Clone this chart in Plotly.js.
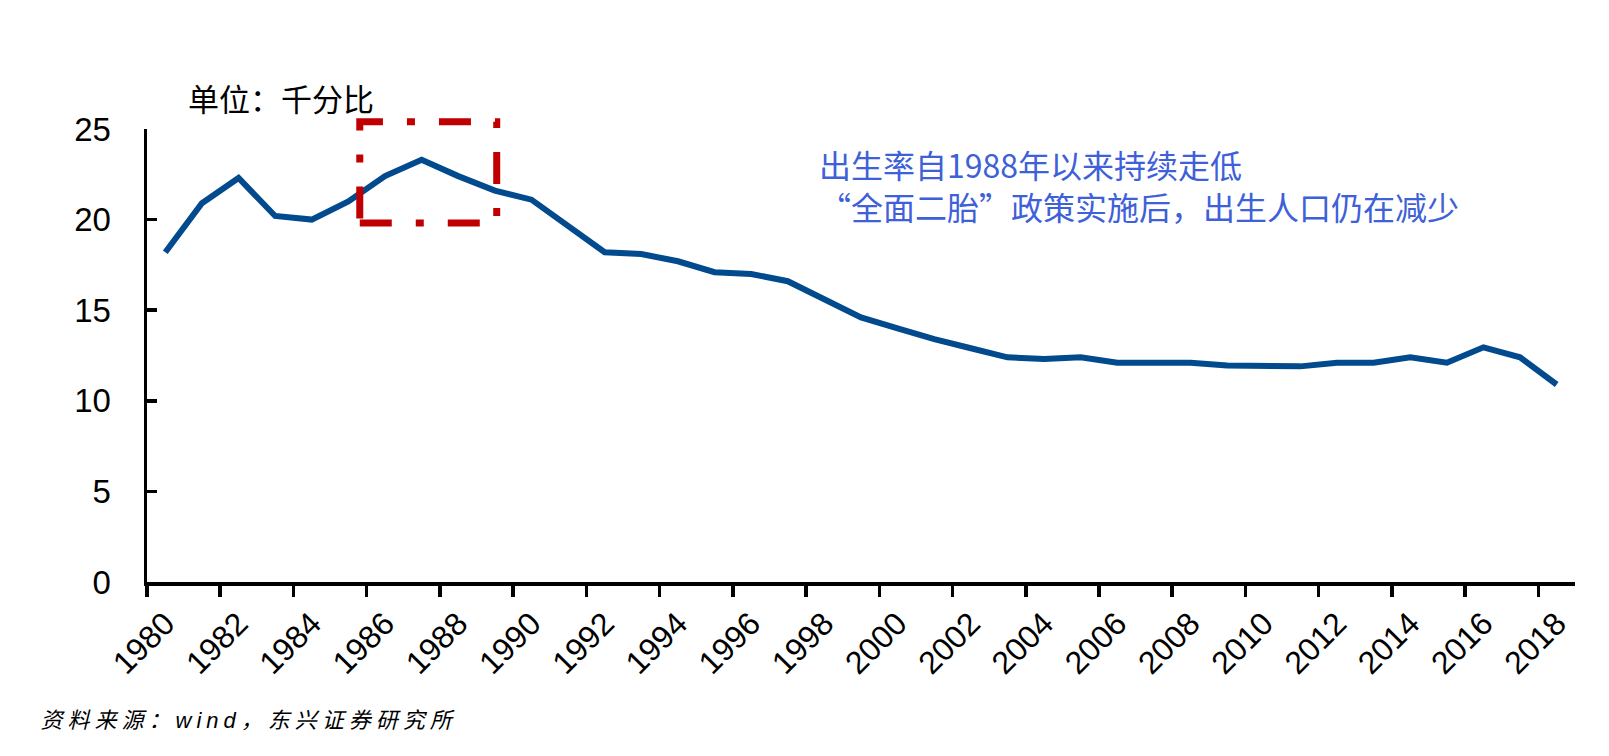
<!DOCTYPE html>
<html>
<head>
<meta charset="utf-8">
<script src="https://cdn.plot.ly/plotly-3.0.1.min.js"></script>
<style>
  html, body { margin: 0; padding: 0; background: #ffffff; }
  #chart { width: 1609px; height: 756px; }
  .annotation[data-index="2"] .annotation-text { letter-spacing: 5px; }
</style>
</head>
<body>
<div id="chart"></div>
<script>
// ---- data ----
var years = [1980, 1981, 1982, 1983, 1984, 1985, 1986, 1987, 1988, 1989,
             1990, 1991, 1992, 1993, 1994, 1995, 1996, 1997, 1998, 1999,
             2000, 2001, 2002, 2003, 2004, 2005, 2006, 2007, 2008, 2009,
             2010, 2011, 2012, 2013, 2014, 2015, 2016, 2017, 2018];
var birthRate = [18.2, 20.9, 22.3, 20.2, 20.0, 21.0, 22.4, 23.3, 22.4, 21.6,
                 21.1, 19.7, 18.2, 18.1, 17.7, 17.1, 17.0, 16.6, 15.6, 14.6,
                 14.0, 13.4, 12.9, 12.4, 12.3, 12.4, 12.1, 12.1, 12.1, 11.95,
                 11.9, 11.9, 12.1, 12.1, 12.4, 12.1, 12.95, 12.4, 10.9];
var labelYears = [1980, 1982, 1984, 1986, 1988, 1990, 1992, 1994, 1996, 1998,
                  2000, 2002, 2004, 2006, 2008, 2010, 2012, 2014, 2016, 2018];
var yTicks = [0, 5, 10, 15, 20, 25];
var unitText = "单位：千分比";
var noteLine1 = "出生率自1988年以来持续走低";
var noteLine2 = "“全面二胎”政策实施后，出生人口仍在减少";
var sourceText = "资料来源：wind，东兴证券研究所";

// ---- derived axis helpers ----
var boundaryTicks = labelYears.map(function (y) { return y - 0.5; });
var xRange = [years[0] - 0.5, years[years.length - 1] + 0.5];

var trace = {
  x: years,
  y: birthRate,
  type: 'scatter',
  mode: 'lines',
  line: { color: '#004A8D', width: 6, shape: 'linear' },
  hoverinfo: 'skip',
  xaxis: 'x',
  yaxis: 'y'
};
// invisible twin so the label axis (x2) gets drawn
var labelTrace = {
  x: years,
  y: birthRate,
  type: 'scatter',
  mode: 'lines',
  line: { color: 'rgba(0,0,0,0)', width: 0 },
  hoverinfo: 'skip',
  xaxis: 'x2',
  yaxis: 'y'
};

var layout = {
  width: 1609,
  height: 756,
  margin: { l: 147, r: 34, t: 129, b: 174, pad: 0 },
  paper_bgcolor: '#ffffff',
  plot_bgcolor: '#ffffff',
  showlegend: false,
  font: { family: 'Liberation Sans, Arial, sans-serif', color: '#000000' },
  xaxis: {
    type: 'linear',
    range: xRange,
    tickmode: 'array',
    tickvals: boundaryTicks,
    showticklabels: false,
    ticks: 'outside',
    ticklen: 11,
    tickwidth: 3.5,
    tickcolor: '#000000',
    showline: true,
    linewidth: 3.5,
    linecolor: '#000000',
    showgrid: false,
    zeroline: false,
    fixedrange: true
  },
  xaxis2: {
    type: 'linear',
    overlaying: 'x',
    anchor: 'y',
    side: 'bottom',
    range: xRange,
    tickmode: 'array',
    tickvals: labelYears,
    ticktext: labelYears.map(String),
    tickangle: -45,
    ticks: 'outside',
    ticklen: 9,
    tickcolor: 'rgba(0,0,0,0)',
    tickfont: { family: 'Liberation Sans, Arial, sans-serif', size: 32, color: '#000000' },
    showline: false,
    showgrid: false,
    zeroline: false,
    fixedrange: true
  },
  yaxis: {
    range: [0, 25],
    tickmode: 'array',
    tickvals: yTicks,
    ticktext: yTicks.map(String),
    ticks: 'inside',
    ticklen: 10,
    tickwidth: 3.5,
    tickcolor: '#000000',
    ticklabelstandoff: 26,
    tickfont: { family: 'Liberation Sans, Arial, sans-serif', size: 33, color: '#000000' },
    showline: true,
    linewidth: 3.5,
    linecolor: '#000000',
    showgrid: false,
    zeroline: false,
    fixedrange: true
  },
  shapes: [{
    type: 'rect',
    xref: 'paper', yref: 'paper',
    x0: 0.1490, x1: 0.2449,
    y0: 0.7925, y1: 1.0161,
    line: { color: '#C00000', width: 7, dash: '32px,24px,8px,24px' },
    fillcolor: 'rgba(0,0,0,0)',
    layer: 'above'
  }],
  annotations: [
    {
      text: unitText,
      xref: 'paper', yref: 'paper',
      x: 0.0270, y: 1.0685,
      xanchor: 'left', yanchor: 'middle',
      showarrow: false,
      font: { family: 'Noto Sans CJK SC, sans-serif', size: 31, color: '#000000' }
    },
    {
      text: noteLine1 + '<br>' + noteLine2,
      xref: 'paper', yref: 'paper',
      x: 0.4692, y: 0.8771,
      xanchor: 'left', yanchor: 'middle',
      align: 'left',
      showarrow: false,
      font: { family: 'Noto Sans CJK SC, sans-serif', size: 32, color: '#3E60D8' }
    },
    {
      text: sourceText,
      xref: 'paper', yref: 'paper',
      x: 0.0721, y: -0.3068,
      xanchor: 'center', yanchor: 'middle',
      showarrow: false,
      font: { family: 'Liberation Sans, Noto Sans CJK SC, sans-serif', size: 22, color: '#000000', style: 'italic' }
    }
  ]
};

Plotly.newPlot('chart', [trace, labelTrace], layout, { staticPlot: true, displayModeBar: false });
</script>
</body>
</html>
